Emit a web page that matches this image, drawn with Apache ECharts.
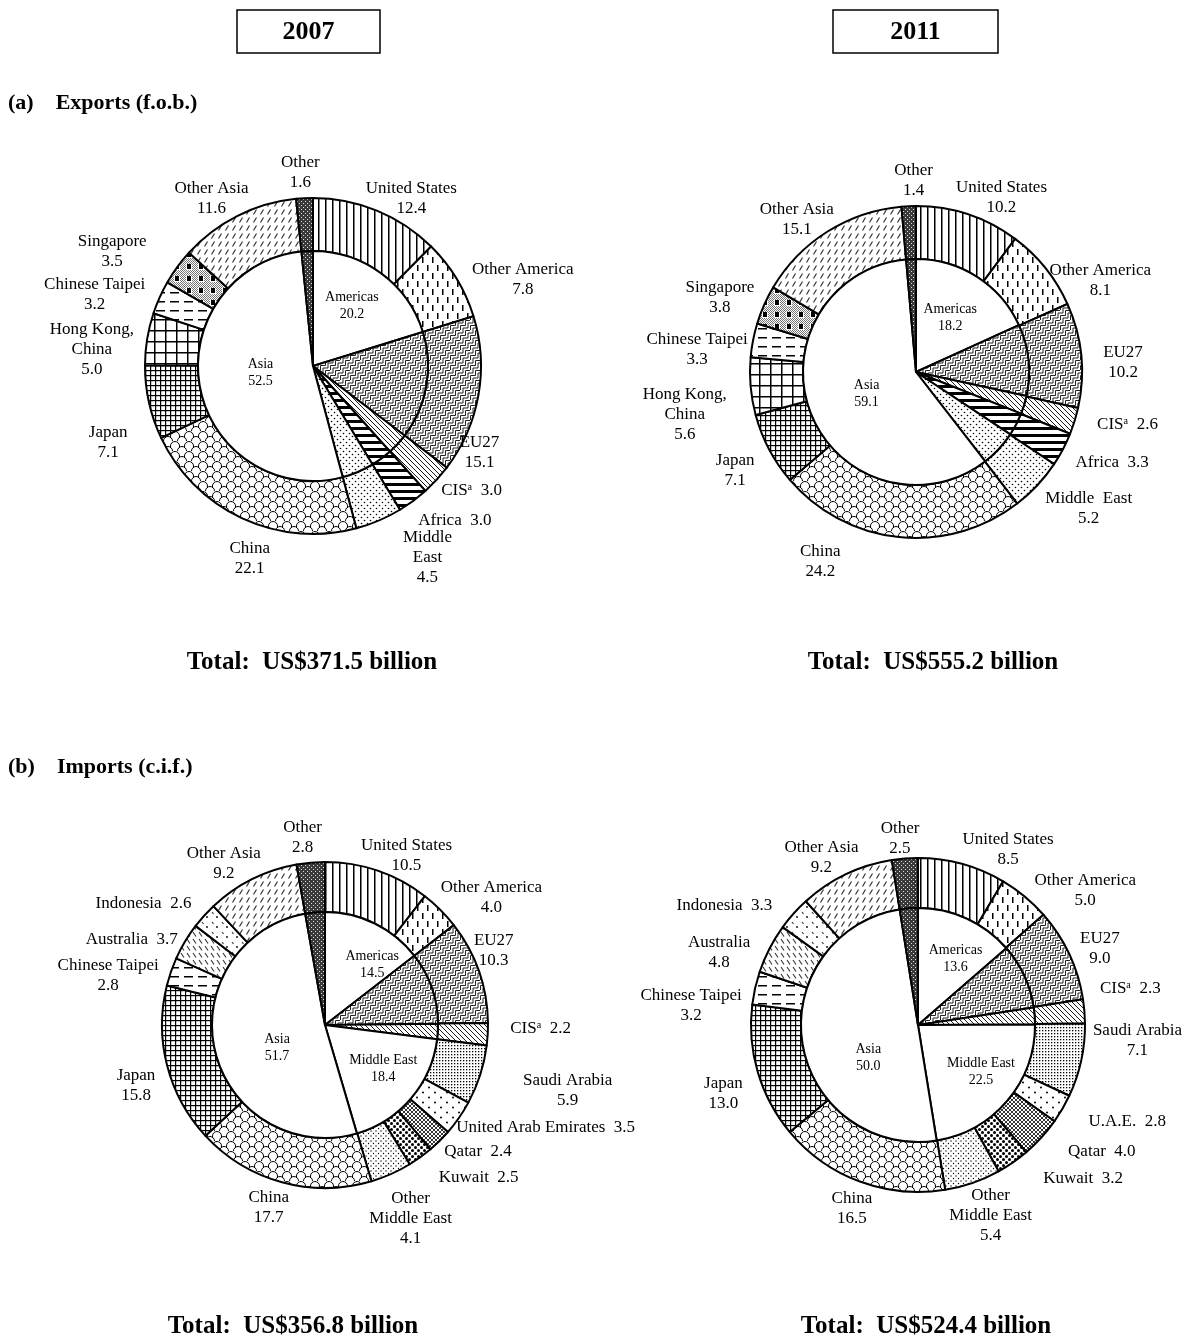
<!DOCTYPE html>
<html><head><meta charset="utf-8">
<script src="https://cdn.jsdelivr.net/npm/echarts@6/dist/echarts.min.js"></script>
<style>html,body{margin:0;padding:0;background:#fff}#c{width:1184px;height:1339px}</style>
</head><body><div id="c"></div>
<script>
// ---------------- DATA ----------------
const years = ['2007', '2011'];
const sectionTitles = ['(a)    Exports (f.o.b.)', '(b)    Imports (c.i.f.)'];
const totals = ['Total:  US$371.5 billion', 'Total:  US$555.2 billion', 'Total:  US$356.8 billion', 'Total:  US$524.4 billion'];

// Exports 2007
const exp07Keys = ['United States','Other America','EU27','CIS','Africa','Middle East','China','Japan','Hong Kong, China','Chinese Taipei','Singapore','Other Asia','Other'];
const exp07Labels = ['United States','Other America','EU27','CISᵃ','Africa','Middle\nEast','China','Japan','Hong Kong,\nChina','Chinese Taipei','Singapore','Other Asia','Other'];
const exp07Values = [12.4, 7.8, 15.1, 3.0, 3.0, 4.5, 22.1, 7.1, 5.0, 3.2, 3.5, 11.6, 1.6];
const exp07Inline = ['CIS', 'Africa'];
const exp07Regions = ['Americas','EU27','CIS','Africa','Middle East','Asia','Other'];
const exp07RegionValues = [20.2, 15.1, 3.0, 3.0, 4.5, 52.5, 1.6];
const exp07RegionLabeled = ['Americas', 'Asia'];

// Exports 2011
const exp11Keys = exp07Keys;
const exp11Labels = ['United States','Other America','EU27','CISᵃ','Africa','Middle  East','China','Japan','Hong Kong,\nChina','Chinese Taipei','Singapore','Other Asia','Other'];
const exp11Values = [10.2, 8.1, 10.2, 2.6, 3.3, 5.2, 24.2, 7.1, 5.6, 3.3, 3.8, 15.1, 1.4];
const exp11Inline = ['CIS', 'Africa'];
const exp11Regions = exp07Regions;
const exp11RegionValues = [18.2, 10.2, 2.6, 3.3, 5.2, 59.1, 1.4];
const exp11RegionLabeled = ['Americas', 'Asia'];

// Imports 2007
const imp07Keys = ['United States','Other America','EU27','CIS','Saudi Arabia','United Arab Emirates','Qatar','Kuwait','Other Middle East','China','Japan','Chinese Taipei','Australia','Indonesia','Other Asia','Other'];
const imp07Labels = ['United States','Other America','EU27','CISᵃ','Saudi Arabia','United Arab Emirates','Qatar','Kuwait','Other\nMiddle East','China','Japan','Chinese Taipei','Australia','Indonesia','Other Asia','Other'];
const imp07Values = [10.5, 4.0, 10.3, 2.2, 5.9, 3.5, 2.4, 2.5, 4.1, 17.7, 15.8, 2.8, 3.7, 2.6, 9.2, 2.8];
const imp07Inline = ['CIS', 'United Arab Emirates', 'Qatar', 'Kuwait', 'Australia', 'Indonesia'];
const imp07Regions = ['Americas','EU27','CIS','Middle East','Asia','Other'];
const imp07RegionValues = [14.5, 10.3, 2.2, 18.4, 51.7, 2.8];
const imp07RegionLabeled = ['Americas', 'Middle East', 'Asia'];

// Imports 2011
const imp11Keys = imp07Keys;
const imp11Labels = ['United States','Other America','EU27','CISᵃ','Saudi Arabia','U.A.E.','Qatar','Kuwait','Other\nMiddle East','China','Japan','Chinese Taipei','Australia','Indonesia','Other Asia','Other'];
const imp11Values = [8.5, 5.0, 9.0, 2.3, 7.1, 2.8, 4.0, 3.2, 5.4, 16.5, 13.0, 3.2, 4.8, 3.3, 9.2, 2.5];
const imp11Inline = ['CIS', 'United Arab Emirates', 'Qatar', 'Kuwait', 'Indonesia'];
const imp11Regions = imp07Regions;
const imp11RegionValues = [13.6, 9.0, 2.3, 22.5, 50.0, 2.5];
const imp11RegionLabeled = ['Americas', 'Middle East', 'Asia'];

// ---------------- PATTERNS (style) ----------------
function pat(w, h, draw) {
  const c = document.createElement('canvas');
  c.width = w; c.height = h;
  const g = c.getContext('2d');
  g.fillStyle = '#fff'; g.fillRect(0, 0, w, h);
  g.fillStyle = '#000'; g.strokeStyle = '#000'; g.lineWidth = 1;
  draw(g, w, h);
  return { image: c, repeat: 'repeat' };
}
function path(g, pts, lw, col) {
  g.lineWidth = lw; g.strokeStyle = col || '#000';
  g.beginPath(); g.moveTo(pts[0][0], pts[0][1]);
  for (let i = 1; i < pts.length; i++) g.lineTo(pts[i][0], pts[i][1]);
  g.stroke();
}
function dot(g, x, y, r, col) { g.fillStyle = col || '#000'; g.beginPath(); g.arc(x, y, r, 0, Math.PI * 2); g.fill(); }

const PAT = {
  'United States': pat(7, 7, g => g.fillRect(3, 0, 1.5, 7)),
  'Other America': pat(10, 16, g => { g.fillRect(2, 1, 1.5, 6); g.fillRect(7, 9, 1.5, 6); }),
  'EU27': pat(10, 10, g => {
    path(g, [[0.5, 10], [0.5, 5.5], [5.5, 5.5], [5.5, 0.5], [10, 0.5]], 1, '#222');
    path(g, [[3, 10], [3, 8], [8, 8], [8, 3], [10, 3]], 1, '#222');
    path(g, [[0, 3], [3, 3], [3, 0]], 1, '#222');
  }),
  'CIS': pat(5, 5, g => { path(g, [[-1, -1], [6, 6]], 0.9); path(g, [[-1, 4], [1, 6]], 0.9); path(g, [[4, -1], [6, 1]], 0.9); }),
  'Africa': pat(8, 7, g => g.fillRect(0, 0, 8, 3)),
  'Middle East': pat(6, 6, g => { dot(g, 1.5, 1.5, 0.8); dot(g, 4.5, 4.5, 0.8); }),
  'China': pat(14, 10, g => {
    g.lineWidth = 1; g.strokeStyle = '#000';
    g.beginPath(); g.arc(7, 6, 4.5, Math.PI, 2 * Math.PI); g.stroke();
    g.beginPath(); g.arc(0, 11, 4.5, Math.PI, 2 * Math.PI); g.stroke();
    g.beginPath(); g.arc(14, 11, 4.5, Math.PI, 2 * Math.PI); g.stroke();
    g.beginPath(); g.arc(0, 1, 4.5, Math.PI, 2 * Math.PI); g.stroke();
    g.beginPath(); g.arc(14, 1, 4.5, Math.PI, 2 * Math.PI); g.stroke();
    path(g, [[2.5, 6], [2.5, 8]], 1); path(g, [[11.5, 6], [11.5, 8]], 1);
  }),
  'Japan': pat(5, 5, g => { g.fillRect(0, 0, 5, 1.2); g.fillRect(0, 0, 1.2, 5); }),
  'Hong Kong, China': pat(11, 11, g => { g.fillRect(0, 0, 11, 1.5); g.fillRect(0, 0, 1.5, 11); }),
  'Chinese Taipei': pat(14, 9, g => g.fillRect(2, 4, 9, 1.5)),
  'Singapore': pat(12, 12, g => {
    g.fillStyle = '#777';
    for (let y = 6; y < 12; y++) for (let x = (y % 2); x < 12; x += 2) g.fillRect(x, y, 1, 1);
    for (let y = 0; y < 6; y++) for (let x = (y % 2); x < 6; x += 2) g.fillRect(x, y, 1, 1);
    g.fillStyle = '#000'; g.fillRect(7, 0, 4, 5);
  }),
  'Other Asia': pat(7, 8, g => path(g, [[1.5, 6.5], [4.5, 1.5]], 1.2, '#333')),
  'Other': pat(4, 4, g => { g.fillStyle = '#3a3a3a'; g.fillRect(0, 0, 4, 4); g.fillStyle = '#ddd'; g.fillRect(1, 1, 1, 1); g.fillRect(3, 3, 1, 1); }),
  'Saudi Arabia': pat(3, 3, g => g.fillRect(1, 1, 1.3, 1.3)),
  'United Arab Emirates': pat(12, 10, g => { dot(g, 3, 2.5, 1); dot(g, 9, 7.5, 1); }),
  'Qatar': pat(4, 4, g => { path(g, [[-1, -1], [5, 5]], 0.8); path(g, [[-1, 5], [5, -1]], 0.8); }),
  'Kuwait': pat(6, 6, g => { dot(g, 1.5, 1.5, 1.5); dot(g, 4.5, 4.5, 1.5); }),
  'Other Middle East': pat(5, 5, g => { dot(g, 1, 1, 0.7); dot(g, 3.5, 3.5, 0.7); }),
  'Australia': pat(6, 7, g => path(g, [[1, 1], [4, 5.5]], 1.1, '#333')),
  'Indonesia': pat(10, 10, g => { path(g, [[2, 2], [3.5, 4]], 1.1, '#333'); dot(g, 7, 7, 0.9); })
};

// ---------------- LAYOUT / STYLE ----------------
const FONT = 'Liberation Serif';
// label offsets (px) applied on top of the automatic outside placement, per chart
const labelNudge = [
  { 'United States': [21, 21], 'Other America': [17, 31], 'EU27': [-26, 53], 'CIS': [11, -11], 'Africa': [23, -6], 'Middle East': [33, 0],
    'China': [20, 13], 'Japan': [-14, 34], 'Hong Kong, China': [-6, 19], 'Chinese Taipei': [-11, 21], 'Singapore': [-30, 10], 'Other Asia': [-10, 15], 'Other': [-3, -2] },
  { 'United States': [23, 14], 'Other America': [12, 47], 'EU27': [16, 10], 'CIS': [18, -7], 'Africa': [13, -6], 'Middle East': [16, -10],
    'China': [-76, 0], 'Japan': [-7, 7], 'Hong Kong, China': [-18, 24], 'Chinese Taipei': [1, 20], 'Singapore': [-4, 10], 'Other Asia': [-10, 21], 'Other': [6, -2] },
  { 'United States': [18, 16], 'Other America': [14, 25], 'EU27': [-13, -11], 'CIS': [17, -8], 'Saudi Arabia': [37, -1], 'United Arab Emirates': [23, -35],
    'Qatar': [15, -13], 'Kuwait': [39, -6], 'Other Middle East': [1, 3], 'China': [-6, -1], 'Japan': [-4, 13], 'Chinese Taipei': [-7, 23],
    'Australia': [-12, 23], 'Indonesia': [-28, 17], 'Other Asia': [-12, 16], 'Other': [-6, -1] },
  { 'United States': [38, 15], 'Other America': [29, 32], 'EU27': [3, 7], 'CIS': [10, -20], 'Saudi Arabia': [5, -31], 'United Arab Emirates': [28, -9],
    'Qatar': [35, -9], 'Kuwait': [52, -10], 'Other Middle East': [4, -7], 'China': [2, 0], 'Japan': [-7, 13], 'Chinese Taipei': [-7, 31],
    'Australia': [-14, 23], 'Indonesia': [-36, 22], 'Other Asia': [-9, 15], 'Other': [-3, 4] }
];
const innerNudge = [
  { 'Americas': [3, -11], 'Asia': [7, -4] },
  { 'Americas': [2, -4], 'Asia': [6, 0] },
  { 'Americas': [21, -7], 'Middle East': [13, 5], 'Asia': [10, 9] },
  { 'Americas': [12, -10], 'Middle East': [16, 7], 'Asia': [11, 23] }
];

const charts = [
  { keys: exp07Keys, labels: exp07Labels, values: exp07Values, inline: exp07Inline, regions: exp07Regions, regionValues: exp07RegionValues, labeled: exp07RegionLabeled, center: [313, 366], R: 168, r: 115 },
  { keys: exp11Keys, labels: exp11Labels, values: exp11Values, inline: exp11Inline, regions: exp11Regions, regionValues: exp11RegionValues, labeled: exp11RegionLabeled, center: [916, 372], R: 166, r: 113 },
  { keys: imp07Keys, labels: imp07Labels, values: imp07Values, inline: imp07Inline, regions: imp07Regions, regionValues: imp07RegionValues, labeled: imp07RegionLabeled, center: [325, 1025], R: 163, r: 113 },
  { keys: imp11Keys, labels: imp11Labels, values: imp11Values, inline: imp11Inline, regions: imp11Regions, regionValues: imp11RegionValues, labeled: imp11RegionLabeled, center: [918, 1025], R: 167, r: 117 }
];

const chart = echarts.init(document.getElementById('c'), null, { renderer: 'canvas' });
const GAP = 5;

function placeOuter(params) {
  const ci = Math.floor(params.seriesIndex / 2);
  const data = chart.getModel().getSeriesByIndex(params.seriesIndex).getData();
  const lay = data.getItemLayout(params.dataIndex);
  const mid = (lay.startAngle + lay.endAngle) / 2;
  const ux = Math.cos(mid), uy = Math.sin(mid);
  const w = params.labelRect.width, h = params.labelRect.height - 4;
  const target = lay.r + GAP;
  let t = lay.r;
  for (; t < lay.r + 300; t += 0.5) {
    const x = t * ux, y = t * uy;
    const dx = Math.max(Math.abs(x) - w / 2, 0), dy = Math.max(Math.abs(y) - h / 2, 0);
    if (Math.hypot(dx, dy) >= target) break;
  }
  const n = labelNudge[ci][data.getName(params.dataIndex)] || [0, 0];
  return { x: lay.cx + t * ux + n[0], y: lay.cy + t * uy + n[1], align: 'center', verticalAlign: 'middle' };
}
function placeInner(params) {
  const ci = Math.floor(params.seriesIndex / 2);
  const data = chart.getModel().getSeriesByIndex(params.seriesIndex).getData();
  const n = innerNudge[ci][data.getName(params.dataIndex)] || [0, 0];
  return { dx: n[0], dy: n[1] };
}

const series = [];
charts.forEach(c => {
  series.push({
    type: 'pie', silent: true, center: c.center, radius: [c.r, c.R],
    startAngle: 90, clockwise: true, avoidLabelOverlap: false, sort: null,
    itemStyle: { borderColor: '#000', borderWidth: 2 },
    label: {
      show: true, position: 'outside', color: '#000', fontFamily: FONT, fontSize: 17, lineHeight: 20, align: 'center',
      formatter: p => c.labels[p.dataIndex] + (c.inline.includes(c.keys[p.dataIndex]) ? '  ' : '\n') + p.value.toFixed(1)
    },
    labelLine: { show: false, length: 5, length2: 0 },
    labelLayout: placeOuter,
    data: c.keys.map((k, i) => ({ name: k, value: c.values[i], itemStyle: { color: PAT[k] } }))
  });
  series.push({
    type: 'pie', silent: true, center: c.center, radius: [0, c.r],
    startAngle: 90, clockwise: true, avoidLabelOverlap: false, sort: null,
    itemStyle: { borderColor: '#000', borderWidth: 2 },
    label: {
      position: 'inside', color: '#000', fontFamily: FONT, fontSize: 14, lineHeight: 17,
      formatter: p => p.name + '\n' + p.value.toFixed(1)
    },
    labelLine: { show: false },
    labelLayout: placeInner,
    data: c.regions.map((k, i) => {
      const white = c.labeled.includes(k);
      return { name: k, value: c.regionValues[i], itemStyle: { color: white ? '#fff' : PAT[k] }, label: { show: white } };
    })
  });
});

const txt = (x, y, s, size) => ({ type: 'text', x, y, style: { text: s, fill: '#000', font: 'bold ' + size + 'px "' + FONT + '"', align: 'center', verticalAlign: 'middle' } });
const graphic = [
  { type: 'rect', shape: { x: 237, y: 10, width: 143, height: 43 }, style: { fill: '#fff', stroke: '#000', lineWidth: 1.5 } },
  { type: 'rect', shape: { x: 833, y: 10, width: 165, height: 43 }, style: { fill: '#fff', stroke: '#000', lineWidth: 1.5 } },
  txt(308.5, 32, years[0], 26),
  txt(915.5, 32, years[1], 26),
  { type: 'text', x: 8, y: 103, style: { text: sectionTitles[0], fill: '#000', font: 'bold 22px "' + FONT + '"', align: 'left', verticalAlign: 'middle' } },
  { type: 'text', x: 8, y: 767, style: { text: sectionTitles[1], fill: '#000', font: 'bold 22px "' + FONT + '"', align: 'left', verticalAlign: 'middle' } },
  txt(312, 663, totals[0], 25),
  txt(933, 663, totals[1], 25),
  txt(293, 1327, totals[2], 25),
  txt(926, 1327, totals[3], 25)
];

chart.setOption({ animation: false, backgroundColor: '#fff', series, graphic });
</script></body></html>
